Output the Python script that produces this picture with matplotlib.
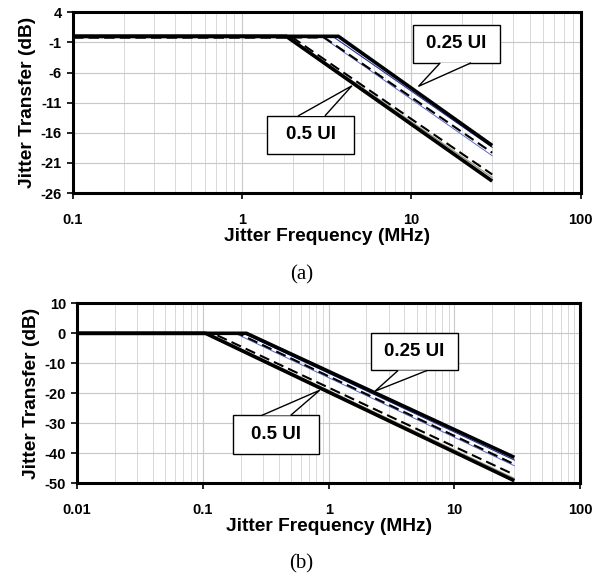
import numpy as np
import matplotlib.pyplot as plt
from matplotlib.patches import Rectangle, Polygon
from matplotlib.ticker import FixedLocator, NullFormatter

plt.rcParams['font.family'] = ['Liberation Sans', 'DejaVu Sans']
plt.rcParams['axes.unicode_minus'] = False

# (a) curves: flat level, corner freq, end point at 30 MHz
a_thick_hi_x = [0.1, 3.7, 30]
a_thick_hi_y = [0.0, 0.0, -18.1]
a_blue_hi_x = [0.1, 3.5, 30]
a_blue_hi_y = [-0.2, -0.2, -18.4]
a_dash_hi_x = [0.1, 3.05, 30]
a_dash_hi_y = [-0.2, -0.2, -19.3]
a_blue2_hi_x = [0.1, 3.0, 30]
a_blue2_hi_y = [-0.2, -0.2, -19.8]
a_thick_lo_x = [0.1, 1.82, 30]
a_thick_lo_y = [0.0, 0.0, -24.0]
a_gray_lo_x = [0.1, 1.9, 30]
a_gray_lo_y = [-0.2, -0.2, -23.4]
a_dash_lo_x = [0.1, 1.98, 30]
a_dash_lo_y = [-0.2, -0.2, -22.9]

# (b) curves
b_thick_hi_x = [0.01, 0.222, 30]
b_thick_hi_y = [0.0, 0.0, -41.4]
b_blue_hi_x = [0.01, 0.21, 30]
b_blue_hi_y = [0.0, 0.0, -42.3]
b_dash_hi_x = [0.01, 0.19, 30]
b_dash_hi_y = [0.0, 0.0, -43.7]
b_blue2_hi_x = [0.01, 0.18, 30]
b_blue2_hi_y = [0.0, 0.0, -44.2]
b_thick_lo_x = [0.01, 0.105, 30]
b_thick_lo_y = [0.0, 0.0, -49.2]
b_gray_lo_x = [0.01, 0.11, 30]
b_gray_lo_y = [0.0, 0.0, -48.4]
b_dash_lo_x = [0.01, 0.12, 30]
b_dash_lo_y = [0.0, 0.0, -47.2]

a_yticks = [4, -1, -6, -11, -16, -21, -26]
a_xticks = [0.1, 1, 10, 100]
a_xlabels = ['0.1', '1', '10', '100']
b_yticks = [10, 0, -10, -20, -30, -40, -50]
b_xticks = [0.01, 0.1, 1, 10, 100]
b_xlabels = ['0.01', '0.1', '1', '10', '100']

fig = plt.figure(figsize=(6.03, 5.8), dpi=100)


def style_axes(ax, xlim, ylim, xticks, xlabels, yticks):
    ax.set_xscale('log')
    ax.set_xlim(*xlim)
    ax.set_ylim(*ylim)
    ax.set_xticks(xticks)
    ax.set_xticklabels(xlabels)
    minors = [m * d for d in xticks[:-1] for m in range(2, 10)]
    ax.xaxis.set_minor_locator(FixedLocator(minors))
    ax.xaxis.set_minor_formatter(NullFormatter())
    ax.set_yticks(yticks)
    ax.grid(True, which='major', color='#c8c8c8', lw=0.8)
    ax.grid(True, which='minor', axis='x', color='#d8d8d8', lw=0.7)
    ax.tick_params(which='minor', length=0)
    ax.tick_params(which='major', length=4, width=1.2, direction='out', pad=4)
    ax.tick_params(axis='x', which='major', pad=10)
    for lab in ax.get_xticklabels() + ax.get_yticklabels():
        lab.set_fontweight('bold')
        lab.set_fontsize(10.5)
    for sp in ax.spines.values():
        sp.set_linewidth(2.2)
    ax.set_xlabel('Jitter Frequency (MHz)', fontsize=13.8, fontweight='bold', labelpad=1)
    ax.set_ylabel('Jitter Transfer (dB)', fontsize=13.8, fontweight='bold', labelpad=3)


def draw_set(ax, thick_hi, blue_hi, dash_hi, blue2_hi, thick_lo, gray_lo, dash_lo):
    ax.plot(*blue2_hi, color='#5a6ad0', lw=0.7, zorder=3)
    ax.plot(*dash_hi, color='black', lw=1.5, ls=(0, (5, 2.5)), zorder=3)
    ax.plot(*blue_hi, color='#2030a0', lw=0.8, zorder=3)
    ax.plot(*thick_hi, color='black', lw=2.6, zorder=4, solid_capstyle='butt')
    ax.plot(*dash_lo, color='black', lw=1.5, ls=(0, (5, 2.5)), zorder=3)
    ax.plot(*gray_lo, color='#9a9a80', lw=0.9, zorder=3)
    ax.plot(*thick_lo, color='black', lw=2.6, zorder=4, solid_capstyle='butt')


def callout(ax, text, x0, x1, y0, y1, bx0, bx1, by, tip):
    ax.add_patch(Rectangle((x0, y0), x1 - x0, y1 - y0, fc='white', ec='black',
                           lw=1.0, zorder=6))
    ax.add_patch(Polygon([(bx0, by), tip, (bx1, by)], closed=False, fc='white',
                         ec='black', lw=1.0, zorder=7))
    xc = np.sqrt(x0 * x1)
    ax.text(xc, (y0 + y1) / 2, text, ha='center', va='center', fontsize=13.5,
            fontweight='bold', zorder=8)


ax1 = fig.add_axes([0.121, 0.667, 0.842, 0.312])
draw_set(ax1, (a_thick_hi_x, a_thick_hi_y), (a_blue_hi_x, a_blue_hi_y),
         (a_dash_hi_x, a_dash_hi_y), (a_blue2_hi_x, a_blue2_hi_y),
         (a_thick_lo_x, a_thick_lo_y), (a_gray_lo_x, a_gray_lo_y),
         (a_dash_lo_x, a_dash_lo_y))
style_axes(ax1, (0.1, 100), (-26, 4), a_xticks, a_xlabels, a_yticks)
callout(ax1, '0.25 UI', 10.2, 33.4, -4.4, 1.95, 14.8, 22.5, -4.4, (11.0, -8.3))
callout(ax1, '0.5 UI', 1.41, 4.56, -19.5, -13.2, 2.14, 3.08, -13.2, (4.45, -8.2))

ax2 = fig.add_axes([0.128, 0.167, 0.834, 0.310])
draw_set(ax2, (b_thick_hi_x, b_thick_hi_y), (b_blue_hi_x, b_blue_hi_y),
         (b_dash_hi_x, b_dash_hi_y), (b_blue2_hi_x, b_blue2_hi_y),
         (b_thick_lo_x, b_thick_lo_y), (b_gray_lo_x, b_gray_lo_y),
         (b_dash_lo_x, b_dash_lo_y))
style_axes(ax2, (0.01, 100), (-50, 10), b_xticks, b_xlabels, b_yticks)
callout(ax2, '0.25 UI', 2.18, 10.7, -12.4, 0.2, 3.57, 6.07, -12.4, (2.34, -19.3))
callout(ax2, '0.5 UI', 0.173, 0.845, -40.2, -27.4, 0.294, 0.498, -27.4, (0.85, -19.0))

fig.text(0.5, 0.526, '(a)', ha='center', va='center', fontsize=15,
         family=['Liberation Serif', 'DejaVu Serif'])
fig.text(0.5, 0.027, '(b)', ha='center', va='center', fontsize=15,
         family=['Liberation Serif', 'DejaVu Serif'])

fig.savefig('out.png', dpi=100)
